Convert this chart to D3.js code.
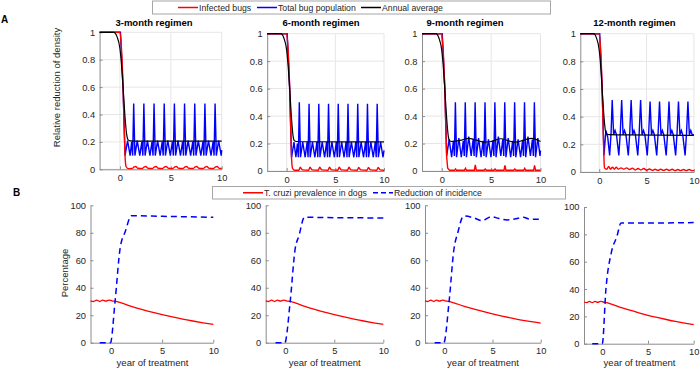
<!DOCTYPE html>
<meta charset="utf-8">
<script src="https://cdn.jsdelivr.net/npm/d3@7"></script>
<style>
  body { margin: 0; background: #fff; }
  text { font-family: "Liberation Sans", Arial, sans-serif; }
</style>
<div id="chart"></div>
<script>
// ---- data ----
var titles = ["3-month regimen", "6-month regimen", "9-month regimen", "12-month regimen"];
var xTicks = [0, 5, 10];
var yTicksA = [0, 0.2, 0.4, 0.6, 0.8, 1];
var yTicksB = [0, 20, 40, 60, 80, 100];
var legendA = ["Infected bugs", "Total bug population", "Annual average"];
var legendB = ["T. cruzi prevalence in dogs", "Reduction of incidence"];

// panel A, 3-month
var infected3 = [[-2,1],[0,1],[0.15,0.88],[0.3,0.62],[0.42,0.3],[0.5,0.1],[0.6,0.02],[0.8,0.005],
  [1.2,0.006],[1.4,0.018],[1.55,0.02],[1.75,0.008],[2.2,0.006],[2.4,0.018],[2.55,0.02],[2.75,0.008],
  [3.2,0.006],[3.4,0.018],[3.55,0.02],[3.75,0.008],[4.2,0.006],[4.4,0.018],[4.55,0.02],[4.75,0.008],
  [5.2,0.006],[5.4,0.018],[5.55,0.02],[5.75,0.008],[6.2,0.006],[6.4,0.018],[6.55,0.02],[6.75,0.008],
  [7.2,0.006],[7.4,0.018],[7.55,0.02],[7.75,0.008],[8.2,0.006],[8.4,0.018],[8.55,0.02],[8.75,0.008],
  [9.2,0.006],[9.4,0.018],[9.55,0.02],[9.75,0.008],[10,0.006]];
var total3 = [[-2,1],[0.05,1],[0.3,0.6],[0.5,0.1],[0.75,0.21],[1.0,0.1],[1.15,0.2],[1.25,0.1],
  [1.35,0.48],[1.47,0.1],[1.7,0.21],[1.95,0.1],[2.15,0.2],[2.25,0.1],
  [2.35,0.48],[2.47,0.1],[2.7,0.21],[2.95,0.1],[3.15,0.2],[3.25,0.1],
  [3.35,0.48],[3.47,0.1],[3.7,0.21],[3.95,0.1],[4.15,0.2],[4.25,0.1],
  [4.35,0.48],[4.47,0.1],[4.7,0.21],[4.95,0.1],[5.15,0.2],[5.25,0.1],
  [5.35,0.48],[5.47,0.1],[5.7,0.21],[5.95,0.1],[6.15,0.2],[6.25,0.1],
  [6.35,0.48],[6.47,0.1],[6.7,0.21],[6.95,0.1],[7.15,0.2],[7.25,0.1],
  [7.35,0.48],[7.47,0.1],[7.7,0.21],[7.95,0.1],[8.15,0.2],[8.25,0.1],
  [8.35,0.48],[8.47,0.1],[8.7,0.21],[8.95,0.1],[9.15,0.2],[9.25,0.1],
  [9.35,0.48],[9.47,0.1],[9.7,0.21],[9.95,0.1],[10,0.14]];
var average3 = [[-2,1],[-0.6,1],[-0.3,0.97],[0,0.88],[0.2,0.72],[0.35,0.55],[0.5,0.38],[0.65,0.26],
  [0.8,0.215],[1.0,0.208],[2,0.205],[10,0.205]];

// panel A, 6-month
var infected6 = [[-2,1],[0,1],[0.15,0.88],[0.3,0.62],[0.42,0.3],[0.5,0.1],[0.6,0.02],[0.8,0.005],
  [1.25,0.005],[1.4,0.028],[1.6,0.008],[2.25,0.005],[2.4,0.028],[2.6,0.008],
  [3.25,0.005],[3.4,0.027],[3.6,0.008],[4.25,0.005],[4.4,0.027],[4.6,0.008],
  [5.25,0.005],[5.4,0.027],[5.6,0.008],[6.25,0.005],[6.4,0.027],[6.6,0.008],
  [7.25,0.005],[7.4,0.026],[7.6,0.008],[8.25,0.005],[8.4,0.026],[8.6,0.008],
  [9.25,0.005],[9.4,0.026],[9.6,0.008],[10,0.005]];
var total6 = [[-2,1],[0.05,1],[0.3,0.62],[0.5,0.1],[0.75,0.21],[0.95,0.1],[1.1,0.2],[1.2,0.1],
  [1.3,0.5],[1.42,0.1],[1.65,0.21],[1.9,0.1],[2.1,0.21],[2.2,0.1],
  [2.3,0.49],[2.42,0.1],[2.65,0.21],[2.9,0.1],[3.1,0.21],[3.2,0.1],
  [3.3,0.49],[3.42,0.1],[3.65,0.21],[3.9,0.1],[4.1,0.21],[4.2,0.1],
  [4.3,0.49],[4.42,0.1],[4.65,0.21],[4.9,0.1],[5.1,0.21],[5.2,0.1],
  [5.3,0.49],[5.42,0.1],[5.65,0.21],[5.9,0.1],[6.1,0.21],[6.2,0.1],
  [6.3,0.49],[6.42,0.1],[6.65,0.21],[6.9,0.1],[7.1,0.21],[7.2,0.1],
  [7.3,0.49],[7.42,0.1],[7.65,0.21],[7.9,0.1],[8.1,0.21],[8.2,0.1],
  [8.3,0.49],[8.42,0.1],[8.65,0.21],[8.9,0.1],[9.1,0.21],[9.2,0.1],
  [9.3,0.49],[9.42,0.1],[9.65,0.21],[9.9,0.1],[10,0.15]];
var average6 = [[-2,1],[-0.6,1],[-0.3,0.97],[0,0.88],[0.2,0.72],[0.35,0.55],[0.5,0.38],[0.65,0.26],
  [0.8,0.22],[1.0,0.215],[2,0.213],[10,0.212]];

// panel A, 9-month
var infected9 = [[-2,1],[0,1],[0.15,0.88],[0.3,0.62],[0.42,0.3],[0.5,0.1],[0.6,0.02],[0.8,0.005],
  [1.3,0.005],[1.4,0.015],[1.5,0.005],[2.3,0.005],[2.4,0.02],[2.5,0.005],[3.3,0.005],[3.4,0.045],[3.5,0.005],
  [4.3,0.005],[4.4,0.015],[4.5,0.005],[5.3,0.005],[5.4,0.015],[5.5,0.005],[6.3,0.005],[6.4,0.04],[6.5,0.005],
  [7.3,0.005],[7.4,0.015],[7.5,0.005],[8.3,0.005],[8.4,0.02],[8.5,0.005],[9.3,0.005],[9.4,0.04],[9.5,0.005],[10,0.005]];
var total9 = [[-2,1],[0.05,1],[0.3,0.62],[0.5,0.11],[0.75,0.23],[1.0,0.1],[1.18,0.22],[1.28,0.11],
  [1.38,0.5],[1.5,0.1],[1.73,0.24],[1.98,0.1],[2.18,0.22],[2.28,0.11],
  [2.38,0.5],[2.5,0.1],[2.73,0.25],[2.98,0.11],[3.18,0.23],[3.28,0.11],
  [3.38,0.5],[3.5,0.1],[3.73,0.24],[3.98,0.1],[4.18,0.22],[4.28,0.11],
  [4.38,0.5],[4.5,0.1],[4.73,0.23],[4.98,0.1],[5.18,0.22],[5.28,0.11],
  [5.38,0.5],[5.5,0.1],[5.73,0.25],[5.98,0.11],[6.18,0.23],[6.28,0.11],
  [6.38,0.5],[6.5,0.1],[6.73,0.24],[6.98,0.1],[7.18,0.22],[7.28,0.11],
  [7.38,0.5],[7.5,0.1],[7.73,0.23],[7.98,0.1],[8.18,0.22],[8.28,0.11],
  [8.38,0.5],[8.5,0.1],[8.73,0.25],[8.98,0.11],[9.18,0.23],[9.28,0.11],
  [9.38,0.5],[9.5,0.1],[9.73,0.24],[9.95,0.11],[10,0.15]];
var average9 = [[-2,1],[-0.6,1],[-0.3,0.97],[0,0.88],[0.2,0.72],[0.35,0.55],[0.5,0.38],[0.65,0.26],
  [0.8,0.22],[1.0,0.215],[2,0.225],[2.7,0.238],[3.5,0.225],[4.3,0.21],[5,0.215],[6,0.235],
  [7,0.215],[7.5,0.21],[8.3,0.225],[9.1,0.238],[10,0.215]];

// panel A, 12-month
var infected12 = [[-2,1],[0,1],[0.15,0.88],[0.3,0.62],[0.42,0.3],[0.5,0.1],[0.55,0.03],
  [0.8,0.02],[1.0,0.04],[1.2,0.02],[1.4,0.035],[1.6,0.02],[1.8,0.035],[2.0,0.02],[2.3,0.03],[2.6,0.02],
  [2.9,0.03],[3.2,0.018],[3.5,0.028],[3.8,0.015],[4.1,0.025],[4.4,0.015],[4.7,0.025],[5.0,0.013],
  [5.3,0.022],[5.6,0.012],[5.9,0.02],[6.2,0.012],[6.5,0.02],[6.8,0.012],[7.1,0.02],[7.4,0.012],
  [7.7,0.02],[8.0,0.01],[8.3,0.018],[8.6,0.01],[8.9,0.018],[9.2,0.01],[9.5,0.018],[9.8,0.01],[10,0.012]];
var total12 = [[-2,1],[0.05,1],[0.3,0.62],[0.5,0.12],[0.7,0.3],[0.9,0.25],[1.1,0.12],[1.25,0.28],
  [1.37,0.52],[1.52,0.27],[1.67,0.3],[1.82,0.27],[2.07,0.12],[2.22,0.28],
  [2.37,0.52],[2.52,0.27],[2.67,0.3],[2.82,0.27],[3.07,0.12],[3.22,0.28],
  [3.37,0.52],[3.52,0.27],[3.67,0.3],[3.82,0.27],[4.07,0.12],[4.22,0.28],
  [4.37,0.52],[4.52,0.27],[4.67,0.3],[4.82,0.27],[5.07,0.12],[5.22,0.28],
  [5.37,0.51],[5.52,0.27],[5.67,0.3],[5.82,0.27],[6.07,0.12],[6.22,0.28],
  [6.37,0.51],[6.52,0.27],[6.67,0.3],[6.82,0.27],[7.07,0.12],[7.22,0.28],
  [7.37,0.51],[7.52,0.27],[7.67,0.3],[7.82,0.27],[8.07,0.12],[8.22,0.28],
  [8.37,0.51],[8.52,0.27],[8.67,0.3],[8.82,0.27],[9.07,0.12],[9.22,0.28],
  [9.37,0.51],[9.52,0.27],[9.67,0.3],[9.82,0.27],[10,0.27]];
var average12 = [[-2,1],[-0.6,1],[-0.3,0.97],[0,0.88],[0.2,0.72],[0.35,0.55],[0.5,0.4],[0.65,0.3],
  [0.8,0.275],[1,0.27],[3,0.268],[10,0.265]];

// panel B: prevalence in dogs (%) and reduction of incidence (%)
var prevalence3 = [[-2,30.5],[-1.7,30],[-1.4,31],[-1.1,30],[-0.8,31],[-0.5,30.2],[-0.2,31],[0.1,30.5],
  [0.5,30],[1,29],[2,26.5],[3,24.3],[4,22.3],[5,20.5],[6,18.8],[7,17.2],[8,15.8],[9,14.5],[10,13.3]];
var prevalence6 = [[-2,30.5],[-1.7,30],[-1.4,31],[-1.1,30],[-0.8,31],[-0.5,30.2],[-0.2,31],[0.1,30.5],
  [0.5,30],[1,29],[2,26.5],[3,24.3],[4,22.3],[5,20.5],[6,18.8],[7,17.2],[8,15.8],[9,14.5],[10,13.3]];
var prevalence9 = [[-2,30.5],[-1.7,30],[-1.4,31],[-1.1,30],[-0.8,31],[-0.5,30.2],[-0.2,31],[0.1,30.5],
  [0.5,30],[1,29],[2,26.7],[3,24.7],[4,22.8],[5,21],[6,19.4],[7,17.9],[8,16.5],[9,15.3],[10,14.3]];
var prevalence12 = [[-2,30.5],[-1.7,30],[-1.4,31],[-1.1,30],[-0.8,31],[-0.5,30.2],[-0.2,31],[0.1,30.5],
  [0.5,30],[1,29],[2,26.6],[3,24.5],[4,22.6],[5,20.8],[6,19.2],[7,17.7],[8,16.3],[9,15.1],[10,14]];
var incidence3 = [[-1.1,0],[-0.05,0],[0.4,30],[0.9,69],[1.4,81],[2.0,92.4],[5,92],[10,91.3]];
var incidence6 = [[-1,0],[-0.05,0],[0.5,30],[1.0,68],[1.4,78],[1.95,91.3],[5,91],[10,90.8]];
var incidence9 = [[-1,0],[-0.05,0],[0.5,30],[1.0,68],[1.4,80],[2.0,92.2],[3,91],[3.9,88.8],[4.9,91.7],
  [5.6,90.5],[6.5,89.3],[7.3,90],[8.2,91.3],[8.9,89.8],[10,89.8]];
var incidence12 = [[-1.1,0],[0,0],[0.4,40],[1.0,67],[1.6,78.5],[2.05,88.3],[5,88.3],[10,88.6]];

var infected = [infected3, infected6, infected9, infected12];
var total = [total3, total6, total9, total12];
var average = [average3, average6, average9, average12];
var prevalence = [prevalence3, prevalence6, prevalence9, prevalence12];
var incidence = [incidence3, incidence6, incidence9, incidence12];

// ---- layout (pixel boxes of each axes) ----
var boxesA = [
  {left: 99.6, right: 221.7, top: 32.3, bottom: 169.3, titleX: 154},
  {left: 267.2, right: 384, top: 33.7, bottom: 171, titleX: 321},
  {left: 422, right: 540.5, top: 33.7, bottom: 171, titleX: 465},
  {left: 580.3, right: 693.9, top: 33.7, bottom: 172, titleX: 634.5}
];
var boxesB = [
  {left: 90.5, right: 213.3, top: 205.3, bottom: 342.7, labelX: 152.5},
  {left: 265.7, right: 383.3, top: 205.3, bottom: 342.7, labelX: 324.7},
  {left: 425, right: 540.7, top: 205.3, bottom: 342.7, labelX: 483},
  {left: 584, right: 693.7, top: 207, bottom: 343.7, labelX: 639.5}
];

var tickColor = "#262626";
var axisColor = "#8c8c8c";
var gridColor = "#e6e6e6";
var tickFont = "9.3px";
var labelFont = "9.5px";

var svg = d3.select("#chart").append("svg")
    .attr("width", 700)
    .attr("height", 371);

function drawAxes(b, x, y, yTicks, yFmt, grid) {
  var g = svg.append("g");
  if (grid) {
    g.selectAll(".gx").data(xTicks).enter().append("line")
      .attr("x1", d => x(d)).attr("x2", d => x(d))
      .attr("y1", b.top).attr("y2", b.bottom)
      .attr("stroke", gridColor).attr("stroke-width", 1);
    g.selectAll(".gy").data(yTicks).enter().append("line")
      .attr("x1", b.left).attr("x2", b.right)
      .attr("y1", d => y(d)).attr("y2", d => y(d))
      .attr("stroke", gridColor).attr("stroke-width", 1);
  }
  // bottom axis
  var xa = g.append("g")
      .attr("transform", "translate(0," + b.bottom + ")")
      .call(d3.axisBottom(x).tickValues(xTicks).tickSizeInner(-3).tickSizeOuter(0).tickPadding(5));
  // left axis
  var ya = g.append("g")
      .attr("transform", "translate(" + b.left + ",0)")
      .call(d3.axisLeft(y).tickValues(yTicks).tickFormat(yFmt).tickSizeInner(-3).tickSizeOuter(0).tickPadding(4.5));
  [xa, ya].forEach(function(a) {
    a.select(".domain").attr("stroke", axisColor);
    a.selectAll(".tick line").attr("stroke", axisColor);
    a.selectAll("text").attr("fill", tickColor)
      .style("font-size", tickFont)
      .style("font-family", "'Liberation Sans', Arial, sans-serif");
  });
}

// ---- panel A ----
boxesA.forEach(function(b, i) {
  var x = d3.scaleLinear().domain([-2, 10]).range([b.left, b.right]);
  var y = d3.scaleLinear().domain([0, 1]).range([b.bottom, b.top]);
  drawAxes(b, x, y, yTicksA, d3.format("~g"), true);

  var smooth = d3.line().x(d => x(d[0])).y(d => y(d[1])).curve(d3.curveMonotoneX);
  var sharp = d3.line().x(d => x(d[0])).y(d => y(d[1]));

  svg.append("path").datum(total[i])
    .attr("d", sharp).attr("fill", "none").attr("stroke", "#0000ff").attr("stroke-width", 1.4);
  svg.append("path").datum(infected[i])
    .attr("d", i == 2 ? sharp : smooth).attr("fill", "none").attr("stroke", "#ff0000").attr("stroke-width", 1.4);
  svg.append("path").datum(average[i])
    .attr("d", smooth).attr("fill", "none").attr("stroke", "#000000").attr("stroke-width", 1.2);

  svg.append("text")
    .attr("x", b.titleX).attr("y", 25.5)
    .attr("text-anchor", "middle")
    .style("font-size", "9.5px").style("font-weight", "bold")
    .attr("fill", "#000")
    .text(titles[i]);
});

// ---- panel B ----
boxesB.forEach(function(b, i) {
  var x = d3.scaleLinear().domain([-2, 10]).range([b.left, b.right]);
  var y = d3.scaleLinear().domain([0, 100]).range([b.bottom, b.top]);
  drawAxes(b, x, y, yTicksB, d3.format("d"), false);

  var line = d3.line().x(d => x(d[0])).y(d => y(d[1])).curve(d3.curveMonotoneX);
  svg.append("path").datum(prevalence[i])
    .attr("d", line).attr("fill", "none").attr("stroke", "#ff0000").attr("stroke-width", 1.3);
  svg.append("path").datum(incidence[i])
    .attr("d", line).attr("fill", "none").attr("stroke", "#0000ff").attr("stroke-width", 1.5)
    .attr("stroke-dasharray", "6,4");

  svg.append("text")
    .attr("x", b.labelX).attr("y", 366)
    .attr("text-anchor", "middle")
    .style("font-size", labelFont).attr("fill", tickColor)
    .text("year of treatment");
});

// ---- y labels and panel letters ----
svg.append("text")
  .attr("transform", "translate(59.5,87.5)rotate(-90)")
  .attr("text-anchor", "middle")
  .style("font-size", labelFont).attr("fill", tickColor)
  .text("Relative reduction of density");
svg.append("text")
  .attr("transform", "translate(68,273)rotate(-90)")
  .attr("text-anchor", "middle")
  .style("font-size", labelFont).attr("fill", tickColor)
  .text("Percentage");
svg.append("text").attr("x", 1).attr("y", 23)
  .style("font-size", "10px").style("font-weight", "bold").text("A");
svg.append("text").attr("x", 13).attr("y", 196)
  .style("font-size", "10px").style("font-weight", "bold").text("B");

// ---- legends ----
function drawLegend(box, items) {
  var g = svg.append("g");
  g.append("rect")
    .attr("x", box.x).attr("y", box.y).attr("width", box.w).attr("height", box.h)
    .attr("fill", "#fff").attr("stroke", "#a6a6a6").attr("stroke-width", 1);
  items.forEach(function(it) {
    g.append("line")
      .attr("x1", it.x).attr("x2", it.x + 20)
      .attr("y1", box.y + box.h / 2).attr("y2", box.y + box.h / 2)
      .attr("stroke", it.color).attr("stroke-width", 1.5)
      .attr("stroke-dasharray", it.dash || null);
    g.append("text")
      .attr("x", it.x + 21).attr("y", box.y + box.h / 2 + 3.1)
      .style("font-size", "8.7px").attr("fill", tickColor)
      .text(it.label);
  });
}
drawLegend({x: 152.5, y: 1, w: 398, h: 13}, [
  {x: 178, color: "#ff0000", label: legendA[0]},
  {x: 257, color: "#0000ff", label: legendA[1]},
  {x: 361, color: "#000000", label: legendA[2]}
]);
drawLegend({x: 212.5, y: 186.5, w: 353, h: 12.5}, [
  {x: 243, color: "#ff0000", label: legendB[0]},
  {x: 373, color: "#0000ff", dash: "5,3", label: legendB[1]}
]);
</script>
